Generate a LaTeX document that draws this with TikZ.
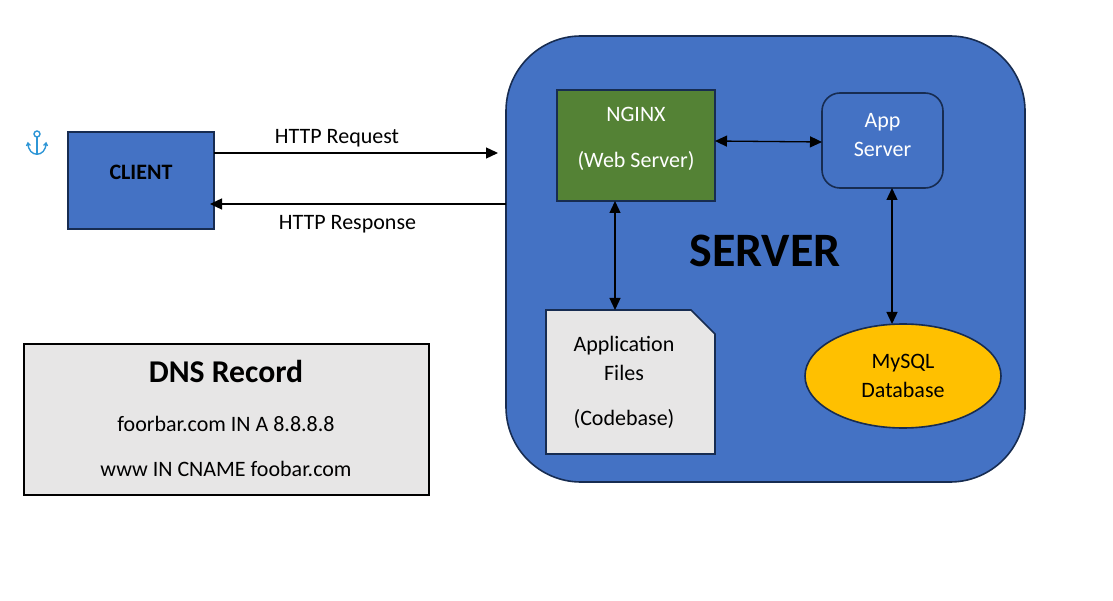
\documentclass[tikz,border=0pt]{standalone}
\usepackage{fontspec}
\setmainfont{Carlito}
\usetikzlibrary{arrows.meta,calc,shapes.geometric}
\definecolor{boxblue}{HTML}{4472C4}
\definecolor{boxline}{HTML}{172C51}
\definecolor{boxgreen}{HTML}{548235}
\definecolor{boxgray}{HTML}{E7E6E6}
\definecolor{boxyellow}{HTML}{FFC000}
\definecolor{anchorblue}{HTML}{2E96D6}
\tikzset{
  box/.style={draw=boxline,line width=1.6pt,inner sep=0pt,outer sep=0pt,align=center,font=\fontsize{22}{29}\selectfont},
  conn/.style={line width=1.3pt,-{Triangle[length=12pt,width=11pt]}},
  both/.style={line width=1.3pt,{Triangle[length=12pt,width=11pt]}-{Triangle[length=12pt,width=11pt]}},
  lbl/.style={inner sep=0pt,font=\fontsize{22}{29}\selectfont}
}
\begin{document}
\begin{tikzpicture}[x=1pt,y=-1pt]
\useasboundingbox (0,0) rectangle (1113,601);
\node[box,fill=boxblue,rounded corners=75pt,minimum width=519pt,minimum height=446pt] (server) at (765.5,259) {};
\node[font=\fontsize{48}{55}\selectfont\bfseries,inner sep=0pt] (servertext) at (765,251) {SERVER};
\node[box,fill=boxblue,minimum width=146pt,minimum height=97pt] (client) at (141,180.5) {};
\node[lbl,font=\fontsize{22}{29}\selectfont\bfseries] (clienttext) at (141,172) {CLIENT};
\node[box,fill=boxgreen,minimum width=158pt,minimum height=111pt,label={[box,draw=none,text=white,yshift=6.5pt]center:{NGINX\\[17pt](Web Server)}}] (nginx) at (636,145.5) {};
\node[box,fill=boxblue,rounded corners=18pt,minimum width=121pt,minimum height=95pt,label={[box,draw=none,text=white,yshift=5pt]center:{App\\Server}}] (app) at (882.5,140.5) {};
\node[inner sep=0pt,outer sep=0pt,minimum width=169pt,minimum height=144pt] (files) at (630.5,382) {};
\draw[draw=boxline,line width=1.6pt,fill=boxgray] (files.north west) -- ([xshift=-24pt]files.north east) -- ([yshift=-24pt]files.north east) -- (files.south east) -- (files.south west) -- cycle;
\node[lbl,align=center] (filestext) at (624,382) {Application\\Files\\[16pt](Codebase)};
\node[box,fill=boxyellow,ellipse,minimum width=196pt,minimum height=104pt] (db) at (903,376) {MySQL\\Database};
\node[draw=black,line width=1.6pt,fill=boxgray,inner sep=0pt,minimum width=405pt,minimum height=151pt] (dns) at (226.5,419.5) {};
\node[inner sep=0pt,font=\fontsize{31.7}{38}\selectfont\bfseries] (dnstitle) at (226,371) {DNS Record};
\node[lbl] (dnsa) at (226,424) {foorbar.com IN A 8.8.8.8};
\node[lbl] (dnscname) at (226,469) {www IN CNAME foobar.com};
\coordinate (reqend) at (498,153);
\coordinate (respstart) at (506,204);
\coordinate (respend) at (210,204);
\draw[conn] (client.east |- reqend) -- (reqend);
\draw[conn] (respstart) -- (respend);
\node[lbl] (reqtext) at (337,138) {HTTP Request};
\node[lbl] (resptext) at (347.5,224) {HTTP Response};
\draw[both] ([yshift=4.5pt]nginx.east) -- ([yshift=-1.5pt]app.west);
\draw[both] ([xshift=-21pt]nginx.south) -- ([xshift=-15.5pt]files.north);
\draw[both] ([xshift=9.5pt]app.south) -- ([xshift=-11pt]db.north);
\begin{scope}[draw=anchorblue,line width=1.4pt,xshift=1pt]
\draw (36,134) circle[radius=3pt];
\draw (36,137) -- (36,154);
\draw (27,143) .. controls (27,158) and (45,158) .. (45,143);
\draw (25.5,146) -- (27,143) -- (29.5,145.5);
\draw (46.5,146) -- (45,143) -- (42.5,145.5);
\end{scope}
\end{tikzpicture}
\end{document}
